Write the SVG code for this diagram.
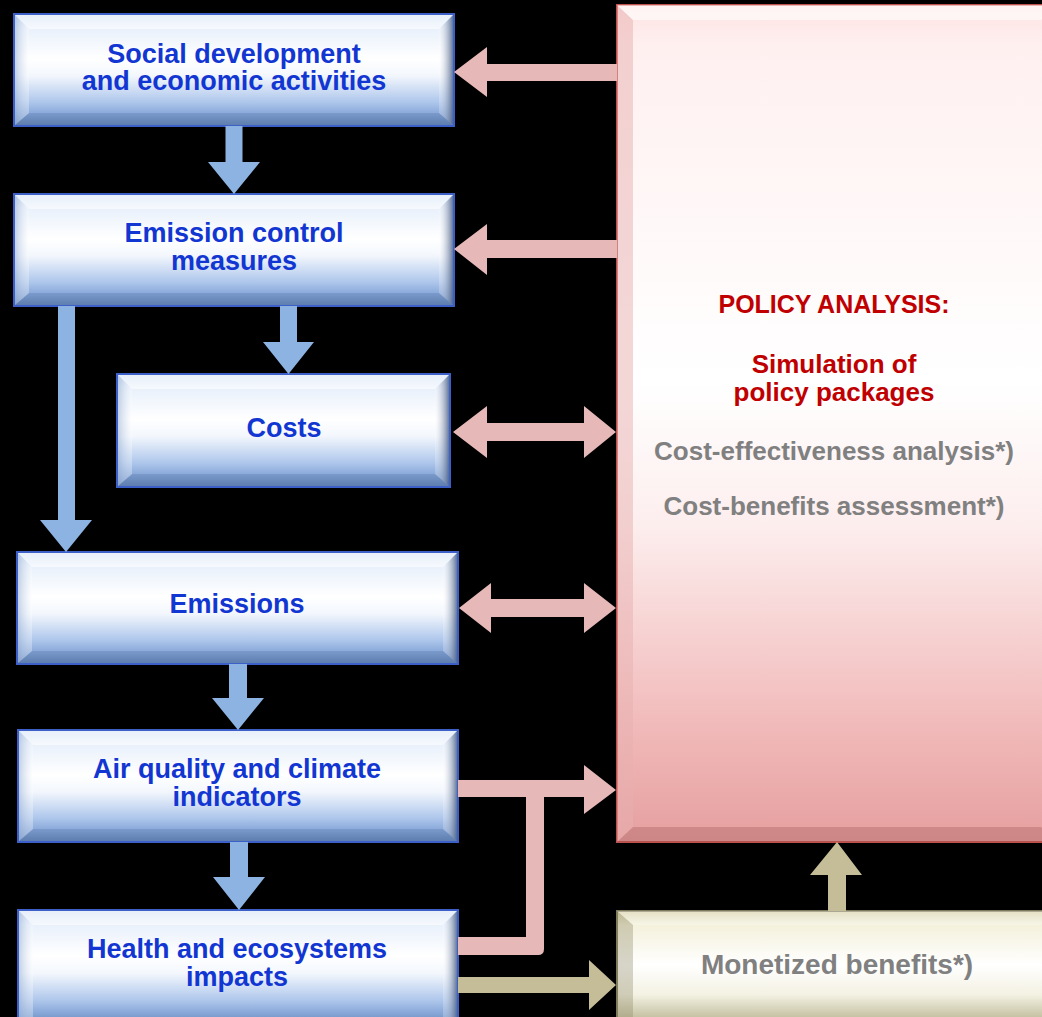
<svg xmlns="http://www.w3.org/2000/svg" width="1042" height="1017" viewBox="0 0 1042 1017">
  <defs>
    <linearGradient id="blueFace" x1="0" y1="0" x2="0" y2="1">
      <stop offset="0" stop-color="#c8daf4"/>
      <stop offset="0.12" stop-color="#e8f0fb"/>
      <stop offset="0.4" stop-color="#ffffff"/>
      <stop offset="0.55" stop-color="#f3f7fd"/>
      <stop offset="0.78" stop-color="#b0c8ec"/>
      <stop offset="0.9" stop-color="#86a6d8"/>
      <stop offset="1" stop-color="#6584b6"/>
    </linearGradient>
    <linearGradient id="bevelR" x1="0" y1="0" x2="1" y2="0">
      <stop offset="0" stop-color="#ffffff" stop-opacity="0.2"/>
      <stop offset="1" stop-color="#4a6088" stop-opacity="0.85"/>
    </linearGradient>
    <linearGradient id="bevelL" x1="0" y1="0" x2="1" y2="0">
      <stop offset="0" stop-color="#9fb6d8" stop-opacity="0.6"/>
      <stop offset="1" stop-color="#ffffff" stop-opacity="0.3"/>
    </linearGradient>
    <linearGradient id="pinkFace" x1="0" y1="0" x2="0" y2="1">
      <stop offset="0" stop-color="#fde2e2"/>
      <stop offset="0.05" stop-color="#fff0f0"/>
      <stop offset="0.45" stop-color="#ffffff"/>
      <stop offset="0.62" stop-color="#fdeeee"/>
      <stop offset="0.85" stop-color="#f2bcbc"/>
      <stop offset="1" stop-color="#e69f9f"/>
    </linearGradient>
    <linearGradient id="oliveFace" x1="0" y1="0" x2="0" y2="1">
      <stop offset="0" stop-color="#d6d1a6"/>
      <stop offset="0.12" stop-color="#f4f1dc"/>
      <stop offset="0.45" stop-color="#ffffff"/>
      <stop offset="0.7" stop-color="#f3f1e2"/>
      <stop offset="1" stop-color="#a8a47c"/>
    </linearGradient>
    <style>
      .box { fill: url(#blueFace); stroke: #3c5fc8; stroke-width: 2; }
      .bvR { fill: url(#bevelR); }
      .bvL { fill: url(#bevelL); }
      .bvT { fill: #ffffff; opacity: 0.55; }
      .bvB { fill: #3d5a8a; opacity: 0.2; }
      .lbl { font-family: "Liberation Sans", Arial, sans-serif; font-weight: bold; font-size: 27px; fill: #1236d2; text-anchor: middle; }
      .red { font-family: "Liberation Sans", Arial, sans-serif; font-weight: bold; font-size: 26px; fill: #c00000; text-anchor: middle; }
      .head { font-size: 25px; }
      .gray { font-family: "Liberation Sans", Arial, sans-serif; font-weight: bold; font-size: 26px; fill: #808080; text-anchor: middle; }
      .big { font-size: 28px; }
      .blueArrow { fill: #8db3e2; }
      .pinkArrow { fill: #e6b9b8; }
      .oliveArrow { fill: #c4bd97; }
    </style>
  </defs>

  <rect x="0" y="0" width="1042" height="1017" fill="#000000"/>

  <!-- policy analysis panel -->
  <g id="policy">
    <rect x="617" y="5" width="440" height="837" fill="url(#pinkFace)" stroke="#c0504d" stroke-width="2"/>
    <polygon points="617,5 633,20 633,827 617,842" fill="#e8b0b0" opacity="0.5"/>
    <polygon points="617,5 1057,5 1041,20 633,20" fill="#ffffff" opacity="0.6"/>
    <polygon points="617,842 633,827 1041,827 1057,842" fill="#a05a5a" opacity="0.35"/>
    <text class="red head" x="834" y="313">POLICY ANALYSIS:</text>
    <text class="red" x="834" y="373">Simulation of</text>
    <text class="red" x="834" y="401">policy packages</text>
    <text class="gray" x="834" y="460">Cost-effectiveness analysis*)</text>
    <text class="gray" x="834" y="515">Cost-benefits assessment*)</text>
  </g>

  <!-- monetized benefits -->
  <g id="benefits">
    <rect x="617" y="911" width="440" height="120" fill="url(#oliveFace)" stroke="#7f7b5a" stroke-width="2"/>
    <polygon points="617,911 1057,911 1041,925 633,925" fill="#ffffff" opacity="0.35"/>
    <polygon points="617,911 633,925 633,1031 617,1031" fill="#8c8864" opacity="0.35"/>
    <text class="gray big" x="837" y="974">Monetized benefits*)</text>
  </g>

  <!-- social development -->
  <g id="social">
    <rect class="box" x="14" y="14" width="440" height="112"/>
    <polygon class="bvT" points="15,15 453,15 439,29 29,29"/>
    <polygon class="bvB" points="15,125 29,113 439,113 453,125"/>
    <polygon class="bvL" points="15,15 29,29 29,113 15,125"/>
    <polygon class="bvR" points="453,15 439,29 439,113 453,125"/>
    <text class="lbl" x="234" y="63">Social development</text>
    <text class="lbl" x="234" y="90">and economic activities</text>
  </g>

  <!-- emission control measures -->
  <g id="measures">
    <rect class="box" x="14" y="194" width="440" height="112"/>
    <polygon class="bvT" points="15,195 453,195 439,209 29,209"/>
    <polygon class="bvB" points="15,305 29,293 439,293 453,305"/>
    <polygon class="bvL" points="15,195 29,209 29,293 15,305"/>
    <polygon class="bvR" points="453,195 439,209 439,293 453,305"/>
    <text class="lbl" x="234" y="242">Emission control</text>
    <text class="lbl" x="234" y="270">measures</text>
  </g>

  <!-- costs -->
  <g id="costs">
    <rect class="box" x="117" y="374" width="333" height="113"/>
    <polygon class="bvT" points="118,375 449,375 435,389 132,389"/>
    <polygon class="bvB" points="118,486 132,474 435,474 449,486"/>
    <polygon class="bvL" points="118,375 132,389 132,474 118,486"/>
    <polygon class="bvR" points="449,375 435,389 435,474 449,486"/>
    <text class="lbl" x="284" y="437">Costs</text>
  </g>

  <!-- emissions -->
  <g id="emissions">
    <rect class="box" x="17" y="552" width="441" height="112"/>
    <polygon class="bvT" points="18,553 457,553 443,567 32,567"/>
    <polygon class="bvB" points="18,663 32,651 443,651 457,663"/>
    <polygon class="bvL" points="18,553 32,567 32,651 18,663"/>
    <polygon class="bvR" points="457,553 443,567 443,651 457,663"/>
    <text class="lbl" x="237" y="613">Emissions</text>
  </g>

  <!-- air quality and climate indicators -->
  <g id="airquality">
    <rect class="box" x="18" y="730" width="440" height="112"/>
    <polygon class="bvT" points="19,731 457,731 443,745 33,745"/>
    <polygon class="bvB" points="19,841 33,829 443,829 457,841"/>
    <polygon class="bvL" points="19,731 33,745 33,829 19,841"/>
    <polygon class="bvR" points="457,731 443,745 443,829 457,841"/>
    <text class="lbl" x="237" y="778">Air quality and climate</text>
    <text class="lbl" x="237" y="806">indicators</text>
  </g>

  <!-- health and ecosystems impacts -->
  <g id="impacts">
    <rect class="box" x="18" y="910" width="440" height="115"/>
    <polygon class="bvT" points="19,911 457,911 443,925 33,925"/>
    <polygon class="bvL" points="19,911 33,925 33,1025 19,1025"/>
    <polygon class="bvR" points="457,911 443,925 443,1025 457,1025"/>
    <text class="lbl" x="237" y="958">Health and ecosystems</text>
    <text class="lbl" x="237" y="986">impacts</text>
  </g>

  <!-- connectors -->
  <g id="connectors">
    <!-- causal chain -->
    <polygon class="blueArrow" points="225.5,126 242.5,126 242.5,162 260,162 234,194 208,162 225.5,162"/>
    <polygon class="blueArrow" points="280,306 297,306 297,342 314,342 288.5,374 263,342 280,342"/>
    <polygon class="blueArrow" points="58,306 75,306 75,520 92,520 66,552 40,520 58,520"/>
    <polygon class="blueArrow" points="229,664 247,664 247,698 264,698 238,730 212,698 229,698"/>
    <polygon class="blueArrow" points="230,842 248,842 248,877 265,877 239,910 213,877 230,877"/>

    <!-- policy feedback -->
    <polygon class="pinkArrow" points="617,64 487,64 487,47 454,72 487,97 487,81 617,81"/>
    <polygon class="pinkArrow" points="617,240 487,240 487,224 454,249 487,275 487,258 617,258"/>
    <polygon class="pinkArrow" points="453,432 487,406 487,423 584,423 584,406 616,432 584,458 584,441 487,441 487,458"/>
    <polygon class="pinkArrow" points="459,608 491,583 491,599 584,599 584,583 616,608 584,633 584,617 491,617 491,633"/>

    <!-- indicators and impacts into policy analysis -->
    <path class="pinkArrow" d="M458,780 H584 V765 L616,790 L584,814 V797 H544 V949 Q544,955 538,955 H458 V937 H526 V797 H458 Z"/>

    <!-- benefits -->
    <polygon class="oliveArrow" points="458,977 589,977 589,960 616,985 589,1010 589,993 458,993"/>
    <polygon class="oliveArrow" points="828,911 828,875 810,875 837,842 862,875 846,875 846,911"/>
  </g>
</svg>
